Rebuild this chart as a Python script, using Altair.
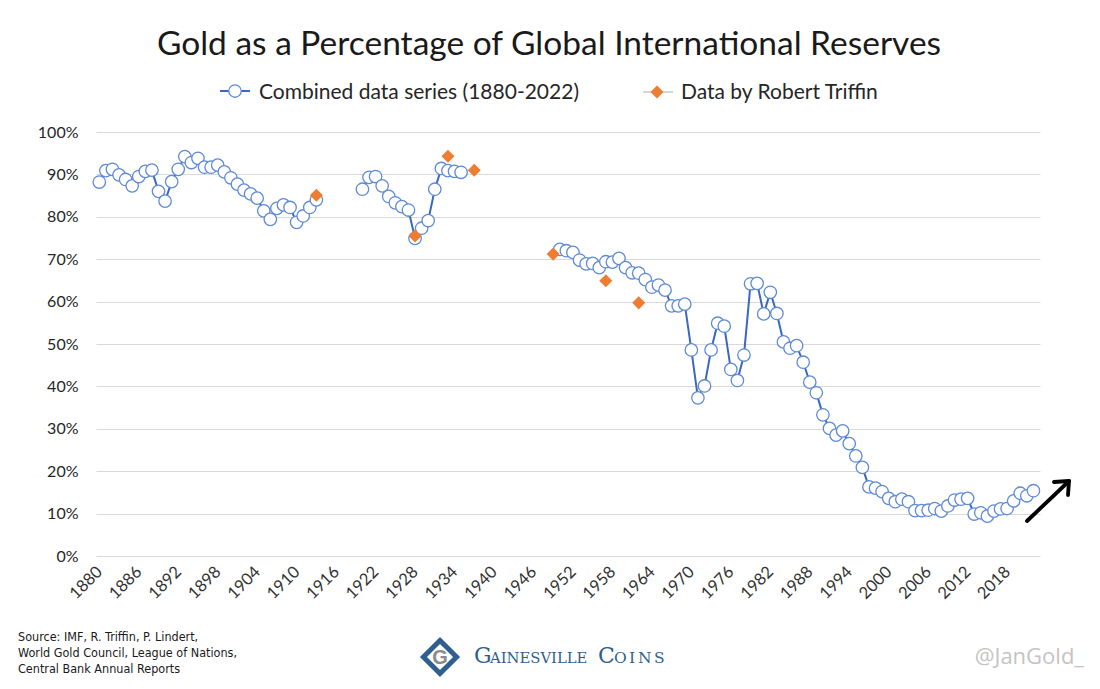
import altair as alt
import pandas as pd

# ---- data ----
years_a = list(range(1880, 1914))
vals_a = [88.2, 90.9, 91.2, 89.9, 88.8, 87.3, 89.5, 90.7, 91.0, 86.0,
          83.7, 88.3, 91.2, 94.2, 92.8, 93.8, 91.7, 91.7, 92.2, 90.6,
          89.2, 87.7, 86.3, 85.4, 84.4, 81.4, 79.4, 82.0, 82.8, 82.2,
          78.7, 80.2, 82.2, 84.0]
years_b = list(range(1920, 1936))
vals_b = [86.5, 89.3, 89.5, 87.3, 84.8, 83.3, 82.4, 81.6, 74.9, 77.3,
          79.1, 86.5, 91.4, 90.9, 90.7, 90.5]
years_c = list(range(1950, 2023))
vals_c = [72.3, 72.0, 71.6, 69.8, 68.9, 69.0, 68.0, 69.4, 69.3, 70.2,
          68.0, 66.8, 66.7, 65.2, 63.4, 63.9, 62.7, 59.0, 59.0, 59.4,
          48.6, 37.3, 40.1, 48.6, 54.9, 54.2, 44.0, 41.4, 47.4, 64.2,
          64.3, 57.1, 62.2, 57.2, 50.5, 49.0, 49.6, 45.7, 41.0, 38.5,
          33.3, 30.1, 28.5, 29.5, 26.5, 23.6, 20.9, 16.3, 16.0, 15.2,
          13.6, 12.8, 13.4, 12.8, 10.7, 10.7, 10.8, 11.2, 10.6, 11.8,
          13.2, 13.4, 13.6, 9.9, 10.2, 9.4, 10.6, 11.1, 11.2, 13.0,
          14.8, 14.2, 15.4]
triffin_years = [1913, 1928, 1933, 1937, 1949, 1957, 1962]
triffin_vals = [85.1, 75.5, 94.3, 91.0, 71.2, 64.9, 59.7]

tick_years = list(range(1880, 2019, 6))
pct_ticks = list(range(0, 101, 10))

title_text = "Gold as a Percentage of Global International Reserves"
legend_1 = "Combined data series (1880-2022)"
legend_2 = "Data by Robert Triffin"
source_lines = ["Source: IMF, R. Triffin, P. Lindert,",
                "World Gold Council, League of Nations,",
                "Central Bank Annual Reports"]
handle = "@JanGold_"

combined = pd.DataFrame({
    "year": years_a + years_b + years_c,
    "pct": vals_a + vals_b + vals_c,
    "segment": ["a"] * len(years_a) + ["b"] * len(years_b) + ["c"] * len(years_c),
})
triffin = pd.DataFrame({"year": triffin_years, "pct": triffin_vals})
one = pd.DataFrame({"k": [0]})

FONT = "Lato, Open Sans, sans-serif"
BLUE_LINE = "#3967c6"
BLUE_PT = "#5e8ad6"
ORANGE = "#ed7d31"
LOGO = "#2f5f8f"
NARROW = "Liberation Sans Narrow, DejaVu Sans Condensed, sans-serif"
SERIF = "DejaVu Serif, serif"

x = alt.X("year:Q",
          scale=alt.Scale(domain=[1879.5, 2023], nice=False, zero=False),
          axis=alt.Axis(values=tick_years, format="d", labelAngle=-45,
                        labelAlign="right", labelBaseline="middle",
                        labelOverlap=False, labelFontSize=16.5,
                        labelColor="#333333", labelFont=FONT,
                        labelPadding=13, grid=False, domain=False, ticks=False),
          title=None)
y = alt.Y("pct:Q",
          scale=alt.Scale(domain=[0, 100], nice=False),
          axis=alt.Axis(values=pct_ticks, labelExpr="datum.value + '%'",
                        labelFontSize=16, labelColor="#262626", labelFont=FONT,
                        labelPadding=18, grid=True, gridColor="#d9d9d9",
                        gridWidth=1, domain=False, ticks=False),
          title=None)

line = alt.Chart(combined).mark_line(color=BLUE_LINE, strokeWidth=2).encode(
    x=x, y=y, detail="segment:N")
circles = alt.Chart(combined).mark_point(
    shape="circle", filled=True, fill="white", stroke=BLUE_PT,
    strokeWidth=1.3, size=155, opacity=1).encode(x=x, y=y)
diamonds = alt.Chart(triffin).mark_point(
    shape="diamond", filled=True, color=ORANGE, size=170, opacity=1).encode(x=x, y=y)


def text(t, px, py, **kw):
    params = dict(text=t, font=FONT, align="left", baseline="alphabetic")
    params.update(kw)
    return alt.Chart(one).mark_text(**params).encode(
        x=alt.value(px), y=alt.value(py))


def rule(x1, y1, x2, y2, **kw):
    return alt.Chart(one).mark_rule(**kw).encode(
        x=alt.value(x1), y=alt.value(y1), x2=alt.value(x2), y2=alt.value(y2))


def pt(px, py, **kw):
    return alt.Chart(one).mark_point(opacity=1, **kw).encode(
        x=alt.value(px), y=alt.value(py))


annotations = [
    text(title_text, 453, -77, align="center", fontSize=33.5, color="#1a1a1a"),
    # legend
    rule(124, -41, 154, -41, color=BLUE_LINE, strokeWidth=2),
    pt(139, -41, shape="circle", filled=True, fill="white", stroke=BLUE_PT,
       strokeWidth=1.3, size=155),
    text(legend_1, 163, -33, fontSize=21, color="#262626"),
    rule(547, -40, 577, -40, color="#c8c8c8", strokeWidth=1.5),
    pt(561, -40, shape="diamond", filled=True, color=ORANGE, size=170),
    text(legend_2, 585, -33, fontSize=21, color="#262626"),
    # source
    text(source_lines[0], -78, 505, fontSize=12.5, baseline="middle",
         font=NARROW, color="#1a1a1a"),
    text(source_lines[1], -78, 521, fontSize=12.5, baseline="middle",
         font=NARROW, color="#1a1a1a"),
    text(source_lines[2], -78, 537, fontSize=12.5, baseline="middle",
         font=NARROW, color="#1a1a1a"),
    # handle
    text(handle, 988, 525, align="right", baseline="middle", fontSize=22,
         font="Open Sans, Lato, sans-serif", color="#c4c4c4"),
    # logo
    pt(344, 525, shape="diamond", filled=False, stroke=LOGO,
       strokeWidth=5, size=1100),
    text("G", 344, 532, align="center", fontSize=20, fontWeight="bold",
         font="Liberation Sans, sans-serif", color="#8a8a8a"),
    text("G", 378, 531, fontSize=22, font=SERIF, color=LOGO),
    text("AINESVILLE", 394, 531, fontSize=14.8, font=SERIF, color=LOGO),
    text("C", 502, 531, fontSize=22, font=SERIF, color=LOGO),
    text("O", 518, 531, fontSize=15.5, font=SERIF, color=LOGO),
    text("I", 533, 531, fontSize=15.5, font=SERIF, color=LOGO),
    text("N", 542, 531, fontSize=15.5, font=SERIF, color=LOGO),
    text("S", 558, 531, fontSize=15.5, font=SERIF, color=LOGO),
    # arrow
    rule(931, 389, 972, 350, color="black", strokeWidth=3.8, strokeCap="round"),
    rule(958, 350, 973, 349, color="black", strokeWidth=3.8, strokeCap="round"),
    rule(973, 349, 972, 363, color="black", strokeWidth=3.8, strokeCap="round"),
]

chart = alt.layer(line, circles, diamonds, *annotations).properties(
    width=944, height=424,
    padding={"left": 88, "top": 124, "right": 52, "bottom": 125},
    autosize=alt.AutoSizeParams(type="none"),
    background="white",
).configure_view(stroke=None)

chart.save("out.html", embed_options={"renderer": "svg", "actions": False})
